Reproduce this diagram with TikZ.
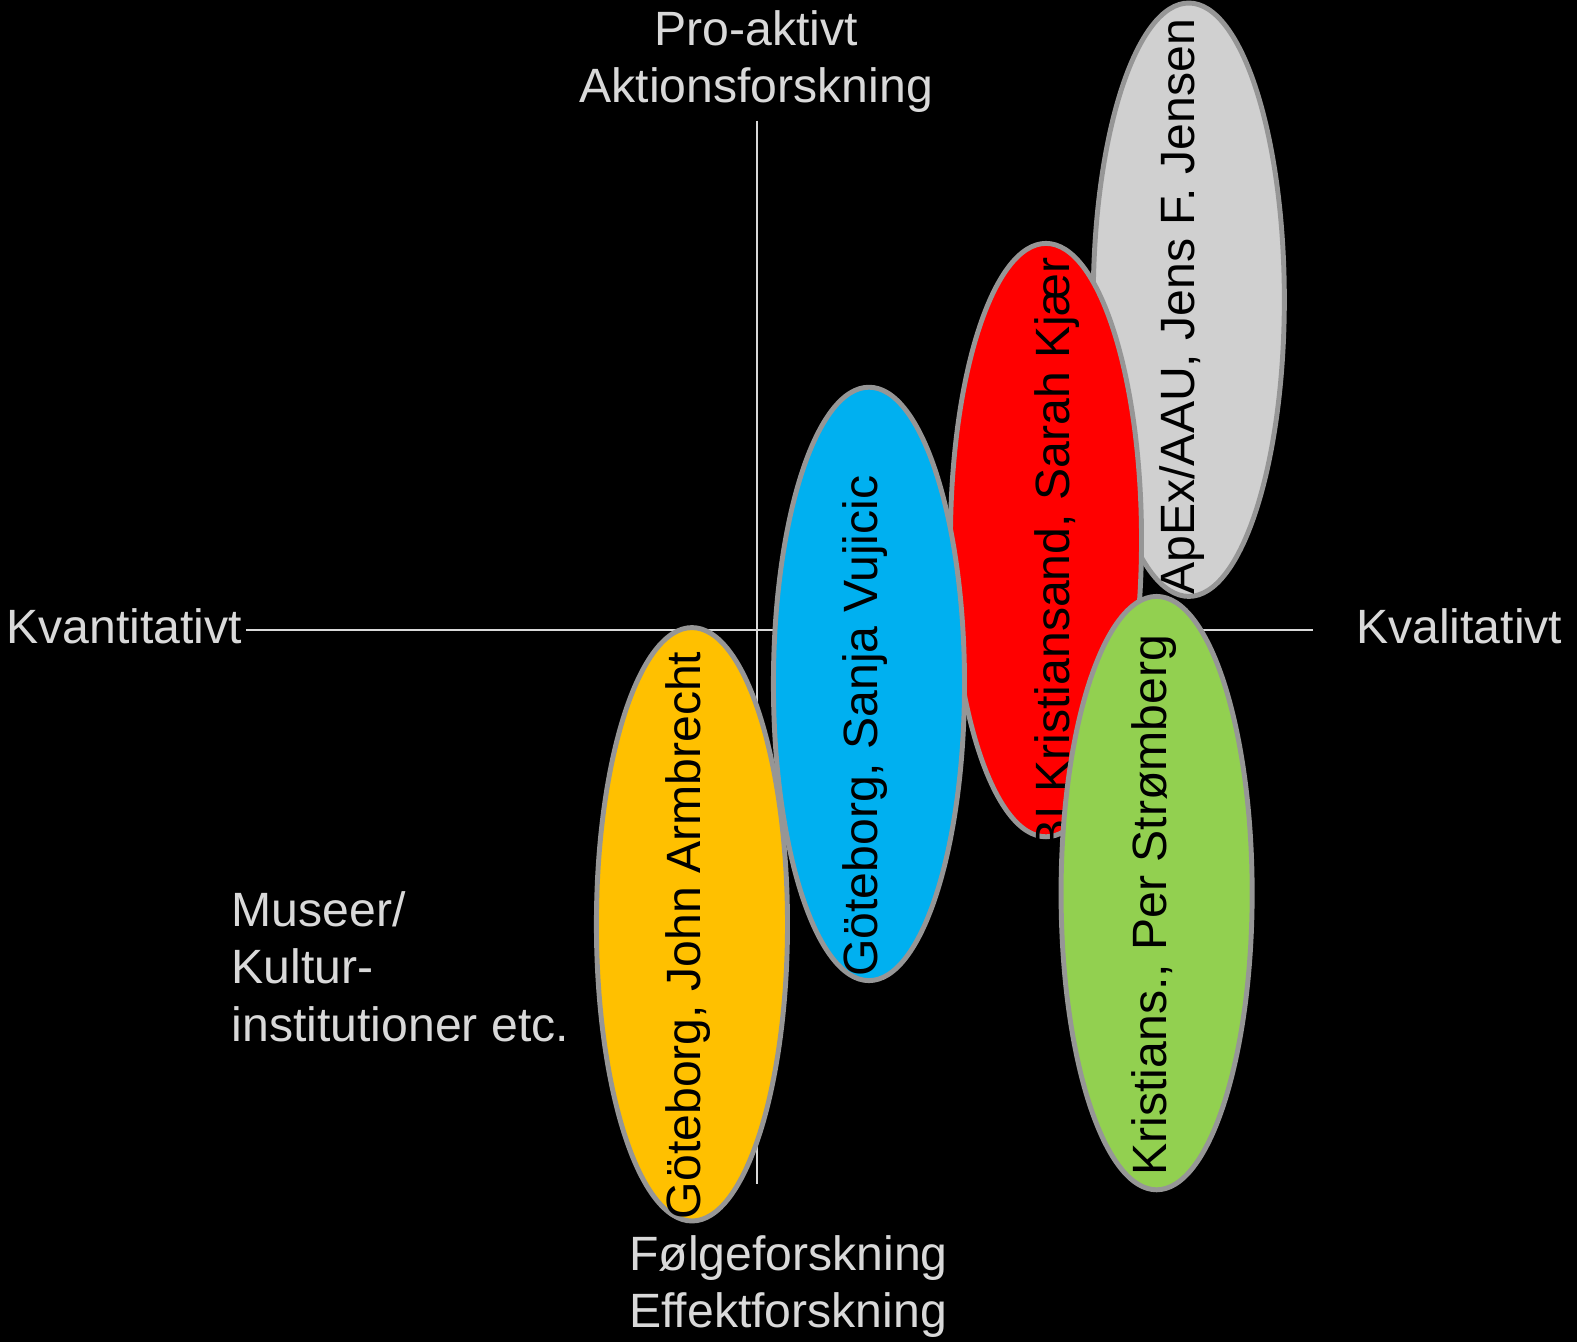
\documentclass[tikz,border=0pt]{standalone}
\usepackage{fontspec}
\setmainfont{Liberation Sans}
\usetikzlibrary{shapes.geometric}
\definecolor{axisgray}{HTML}{D9D9D9}
\definecolor{rimgray}{HTML}{969696}
\definecolor{gbyellow}{HTML}{FFC000}
\definecolor{gbblue}{HTML}{00B0F0}
\definecolor{bired}{HTML}{FF0000}
\definecolor{apexgray}{HTML}{D0D0D0}
\definecolor{krgreen}{HTML}{92D050}
\newcommand{\lblfont}{\fontsize{27.4}{32.6}\selectfont}
\begin{document}
\begin{tikzpicture}[x=0.020115cm, y=-0.020115cm,
    blob/.style={ellipse, draw=rimgray, line width=2.8pt, minimum width=190*0.020115cm, minimum height=590*0.020115cm, inner sep=0pt},
    who/.style={rotate=90, text=black, font=\lblfont, inner sep=0pt},
    axlabel/.style={text=axisgray, font=\lblfont, inner sep=0pt},
    axis/.style={draw=axisgray, line width=1.1pt}]
        \useasboundingbox[fill=black] (0,0) rectangle (1568,1334);
        % Axes
        \coordinate (left) at (245,626);
        \coordinate (right) at (1305,626);
        \coordinate (up) at (753,120);
        \coordinate (down) at (753,1177);
        \draw[axis] (left) -- (right);
        \draw[axis] (up) -- (down);
        % Axis labels
        \node (proaktiv) at (752,61) [axlabel, align=center] {Pro-aktivt\\Aktionsforskning};
        \node (folge) at (784,1279) [axlabel, align=left] {Følgeforskning\\Effektforskning};
        \node (kvant) at (6,640) [axlabel, anchor=base west] {Kvantitativt};
        \node (kval) at (1348,640) [axlabel, anchor=base west] {Kvalitativt};
        \node (museer) at (230,961) [axlabel, anchor=west, align=left] {Museer/\\Kultur-\\institutioner etc.};
        % Ellipses (back to front)
        \node (armbrecht) at (688,919) [blob, fill=gbyellow] {};
        \node (armbrechtT) at (684,930) [who] {Göteborg, John Armbrecht};
        \node (jensen) at (1182,298) [blob, fill=apexgray] {};
        \node (jensenT) at (1175,305) [who] {ApEx/AAU, Jens F. Jensen};
        \node (kjaer) at (1040,537) [blob, fill=bired] {};
        \node (kjaerT) at (1051,551) [who] {BI Kristiansand, Sarah Kjær};
        \node (vujicic) at (864,680) [blob, fill=gbblue] {};
        \node (vujicicT) at (860,722) [who] {Göteborg, Sanja Vujicic};
        \node (stromberg) at (1150,888) [blob, fill=krgreen] {};
        \node (strombergT) at (1147,900) [who] {Kristians., Per Strømberg};
      \end{tikzpicture}
\end{document}
